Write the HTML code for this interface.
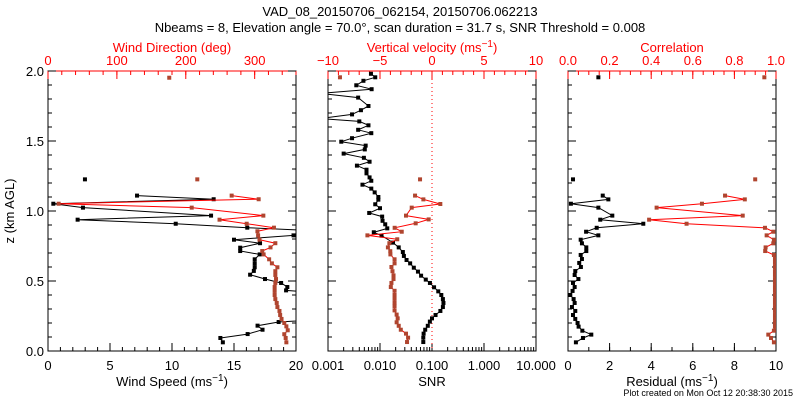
<!DOCTYPE html>
<html><head><meta charset="utf-8"><style>
body{margin:0;background:#fff;}
svg{display:block;font-family:"Liberation Sans",sans-serif;}
</style></head><body>
<svg id="chart" width="800" height="400" viewBox="0 0 800 400" xmlns="http://www.w3.org/2000/svg">
<defs>
<clipPath id="c1"><rect x="48" y="71" width="248" height="280"/></clipPath>
<clipPath id="c2"><rect x="328" y="71" width="208" height="280"/></clipPath>
<clipPath id="c3"><rect x="568" y="71" width="208" height="280"/></clipPath>
</defs>
<text x="400" y="16" font-size="13" text-anchor="middle">VAD_08_20150706_062154, 20150706.062213</text>
<text x="400" y="32" font-size="13" text-anchor="middle">Nbeams = 8, Elevation angle = 70.0°, scan duration = 31.7 s, SNR Threshold = 0.008</text>
<text transform="translate(14,211) rotate(-90)" font-size="13" text-anchor="middle">z (km AGL)</text>
<text x="793" y="396" font-size="9" text-anchor="end">Plot created on Mon Oct 12 20:38:30 2015</text>
<g id="layer"></g>
</svg>
<script>
// Panel 1: wind speed (black) and wind direction (red)
const wsZ=[1.226,1.11,1.084,1.052,1.024,0.967,0.938,0.909,0.881,0.853,0.826,0.795,0.77,0.738,0.714,0.69,0.655,0.626,0.598,0.572,0.545,0.514,0.486,0.457,0.433,0.40,0.229,0.207,0.181,0.152,0.121,0.093,0.062];
const wsVal=[2.98,7.18,13.36,0.43,2.82,13.15,2.39,10.3,16.07,23,19.8,15.0,17.1,15.5,15.5,17.07,16.67,16.67,16.67,16.6,16.3,17.5,18.8,19.3,19.2,24,23,18.6,16.9,17.3,16.1,13.9,14.1];
const wdZ=[1.952,1.226,1.11,1.084,1.052,1.024,0.967,0.938,0.909,0.881,0.855,0.826,0.795,0.77,0.74,0.714,0.69,0.655,0.626,0.598,0.57,0.543,0.514,0.486,0.457,0.429,0.40,0.371,0.343,0.314,0.286,0.257,0.229,0.2,0.176,0.148,0.12,0.093,0.062];
const wdVal=[176,216.7,266.6,305.8,15.5,208.6,312.6,249,288.4,328,304,305,307,330,323,311,313,321,325,333,330,330,331,330,329,329,329,330,332,333,336,337,339,343,346,348,343,345,346];
// Panel 2: SNR (black, log) and vertical velocity (red)
const snrZ=[1.98,1.955,1.93,1.898,1.87,1.84,1.81,1.75,1.72,1.69,1.66,1.64,1.612,1.58,1.556,1.52,1.495,1.467,1.44,1.41,1.38,1.352,1.324,1.295,1.269,1.24,1.216,1.188,1.16,1.133,1.10,1.081,1.048,1.02,0.986,0.96,0.93,0.905,0.876,0.848,0.824,0.774,0.74,0.707,0.679,0.65,0.626,0.595,0.567,0.538,0.51,0.486,0.455,0.426,0.40,0.371,0.343,0.314,0.286,0.257,0.233,0.21,0.18,0.152,0.124,0.095,0.064];
const snrVal=[0.0067,0.0081,0.0048,0.0035,0.0069,0.0007,0.0038,0.0060,0.0043,0.0029,0.0007,0.0040,0.0060,0.0038,0.0068,0.0029,0.0018,0.0053,0.0051,0.0020,0.0049,0.0063,0.0036,0.0055,0.0055,0.0063,0.0068,0.0046,0.0068,0.0079,0.0093,0.0093,0.0081,0.0100,0.0062,0.0110,0.0112,0.0126,0.0138,0.0076,0.0107,0.0178,0.0229,0.0275,0.0288,0.0324,0.038,0.0447,0.0537,0.0617,0.0759,0.0912,0.1096,0.132,0.151,0.162,0.166,0.162,0.145,0.117,0.100,0.091,0.083,0.074,0.069,0.068,0.068];
const vvZ=[1.955,1.226,1.11,1.083,1.05,1.024,0.967,0.94,0.912,0.88,0.852,0.826,0.798,0.77,0.74,0.713,0.69,0.655,0.626,0.6,0.57,0.54,0.514,0.486,0.457,0.43,0.40,0.372,0.343,0.32,0.29,0.26,0.233,0.205,0.18,0.152,0.124,0.095,0.064];
const vvVal=[-8.85,-1.15,-1.63,-0.83,0.8,-1.95,-2.5,-0.32,-1.57,-3.59,-2.91,-6.21,-3.34,-4.1,-4.24,-4.01,-4.0,-3.6,-3.6,-3.9,-3.8,-3.7,-3.7,-3.9,-3.96,-3.6,-3.6,-3.6,-3.6,-3.6,-3.6,-3.4,-3.3,-3.4,-3.2,-3.0,-2.5,-2.3,-2.4];
// Panel 3: residual (black) and correlation (red)
const resZ=[1.955,1.226,1.11,1.083,1.052,1.024,0.967,0.938,0.909,0.88,0.852,0.826,0.795,0.769,0.74,0.714,0.686,0.657,0.629,0.6,0.571,0.543,0.514,0.486,0.457,0.429,0.40,0.371,0.343,0.314,0.286,0.257,0.229,0.2,0.174,0.145,0.117,0.093,0.062];
const resVal=[1.46,0.24,1.67,1.94,0.14,1.46,2.13,1.55,3.62,1.38,0.87,1.46,0.61,0.67,0.88,0.88,0.61,0.67,0.54,0.62,0.35,0.32,0.5,0.24,0.32,0.22,0.11,0.27,0.32,0.19,0.35,0.24,0.35,0.46,0.51,0.69,1.12,0.72,0.38];
const corZ=[1.955,1.226,1.11,1.083,1.052,1.024,0.967,0.938,0.909,0.88,0.852,0.826,0.795,0.769,0.74,0.714,0.686,0.657,0.629,0.6,0.571,0.543,0.514,0.486,0.457,0.429,0.40,0.371,0.343,0.314,0.286,0.257,0.229,0.2,0.174,0.145,0.117,0.093,0.062];
const corVal=[0.944,0.90,0.755,0.85,0.644,0.426,0.84,0.39,0.57,0.947,0.987,0.955,0.99,0.987,0.95,0.948,0.99,0.995,0.995,0.995,0.995,0.995,0.995,0.995,0.995,0.995,0.995,0.995,0.995,0.995,0.995,0.995,0.995,0.995,0.995,0.99,0.963,0.976,0.99];
// Axis ticks
const zTicks=[0.0,0.5,1.0,1.5,2.0];
const wsTicks=[0,5,10,15,20];
const wdTicks=[0,100,200,300];
const snrTicks=[0.001,0.01,0.1,1,10];
const snrTickLabels=["0.001","0.010","0.100","1.000","10.000"];
const vvTicks=[-10,-5,0,5,10];
const resTicks=[0,2,4,6,8,10];
const corTicks=[0.0,0.2,0.4,0.6,0.8,1.0];

const NS="http://www.w3.org/2000/svg";
const layer=document.getElementById('layer');
const Y0=351,Y1=71;
function yS(z){return Y0-(z/2)*(Y0-Y1);}
function mk(tag,attrs,parent){const e=document.createElementNS(NS,tag);for(const k in attrs)e.setAttribute(k,attrs[k]);(parent||layer).appendChild(e);return e;}
const RED="#ff0000",MRK="#b0452f";

function panel(x0,x1,name,bottomScale,bTicks,bLabels,bMinor,topScale,tTicks,tLabels,tMinor,bTitle,tTitle,showY){
  const g=mk('g',{});
  
  
  const box=mk('rect',{x:x0,y:Y1,width:x1-x0,height:Y0-Y1,fill:'none',stroke:'#000','stroke-width':1},g);
  
  
  // bottom ticks
  bMinor.forEach(v=>{const x=bottomScale(v);mk('line',{x1:x,x2:x,y1:Y0,y2:Y0-4,stroke:'#000'},g);});
  bTicks.forEach((v,i)=>{const x=bottomScale(v);mk('line',{x1:x,x2:x,y1:Y0,y2:Y0-8,stroke:'#000'},g);
    const t=mk('text',{x:x,y:370,'font-size':13,'text-anchor':'middle'},g);t.textContent=bLabels[i];
    
    });
  tMinor.forEach(v=>{const x=topScale(v);mk('line',{x1:x,x2:x,y1:Y1,y2:Y1+4,stroke:RED},g);});
  tTicks.forEach((v,i)=>{const x=topScale(v);mk('line',{x1:x,x2:x,y1:Y1,y2:Y1+8,stroke:RED},g);
    const t=mk('text',{x:x,y:65,'font-size':13,'text-anchor':'middle',fill:RED},g);t.textContent=tLabels[i];
    
    });
  mk('line',{x1:x0,x2:x1,y1:Y1,y2:Y1,stroke:RED},g);
  // y ticks
  for(let z=0;z<=2.0001;z+=0.1){const y=yS(z);const major=Math.abs(z*2-Math.round(z*2))<1e-6;const L=major?8:4;
    mk('line',{x1:x0,x2:x0+L,y1:y,y2:y,stroke:'#000'},g);mk('line',{x1:x1,x2:x1-L,y1:y,y2:y,stroke:'#000'},g);}
  if(showY){zTicks.forEach(z=>{const t=mk('text',{x:x0-4,y:yS(z)+5,'font-size':13,'text-anchor':'end'},g);t.textContent=z.toFixed(1);
    
    });}
  const bt=mk('text',{x:(x0+x1)/2,y:386,'font-size':13,'text-anchor':'middle'},g);bt.innerHTML=bTitle;
  
  
  const tt=mk('text',{x:(x0+x1)/2,y:52,'font-size':13,'text-anchor':'middle',fill:RED},g);tt.innerHTML=tTitle;
  
  
  return g;
}
function series(zs,vals,scale,clip,lineColor,mColor,name,isolated){
  const g=mk('g',{'clip-path':'url(#'+clip+')'});
  
  
  let d='';let prev=null;
  zs.forEach((z,i)=>{const x=scale(vals[i]),y=yS(z);
    if(prev!==null && prev-z<0.1 && !isolated.includes(i) && !isolated.includes(i-1)) d+=' L'+x.toFixed(1)+','+y.toFixed(1);
    else d+=' M'+x.toFixed(1)+','+y.toFixed(1);
    prev=z;});
  const p=mk('path',{d:d,fill:'none',stroke:lineColor,'stroke-width':1},g);
  
  
  zs.forEach((z,i)=>{const x=scale(vals[i]),y=yS(z);
    const r=mk('rect',{x:x-2,y:y-2,width:4,height:4,fill:mColor},g);
    
    });
}
// scales
const ws=v=>48+v/20*248, wd=v=>48+v/360*248;
const snr=v=>328+(Math.log10(v)+3)*52, vv=v=>328+(v+10)/20*208;
const rs=v=>568+v/10*208, cr=v=>568+v*208;
function range(a,b,s){const r=[];for(let v=a;v<=b+1e-9;v+=s)r.push(+v.toFixed(4));return r;}
const logMinor=[];for(let e=-3;e<1;e++)for(let k=2;k<10;k++)logMinor.push(k*Math.pow(10,e));

panel(48,296,'wind-panel',ws,wsTicks,wsTicks.map(String),range(0,20,1),wd,wdTicks,wdTicks.map(String),range(0,360,20),
 'Wind Speed (ms<tspan dy="-5" font-size="10">−1</tspan><tspan dy="5">)</tspan>','Wind Direction (deg)',true);
panel(328,536,'snr-panel',snr,snrTicks,snrTickLabels,logMinor,vv,vvTicks,vvTicks.map(v=>v<0?'−'+(-v):String(v)),range(-10,10,1),
 'SNR','Vertical velocity (ms<tspan dy="-5" font-size="10">−1</tspan><tspan dy="5">)</tspan>',false);
panel(568,776,'residual-panel',rs,resTicks,resTicks.map(String),range(0,10,1),cr,corTicks,corTicks.map(v=>v.toFixed(1)),range(0,1,0.05),
 'Residual (ms<tspan dy="-5" font-size="10">−1</tspan><tspan dy="5">)</tspan>','Correlation',false);
// zero line
const zl=mk('line',{x1:vv(0),x2:vv(0),y1:Y1,y2:Y0,stroke:RED,'stroke-dasharray':'1,3'});



series(wsZ,wsVal,ws,'c1','#000','#000','wind-speed-series',[0]);
series(wdZ,wdVal,wd,'c1',RED,MRK,'wind-direction-series',[0,1]);
series(snrZ,snrVal,snr,'c2','#000','#000','snr-series',[]);
series(vvZ,vvVal,vv,'c2',RED,MRK,'vertical-velocity-series',[0,1]);
series(resZ,resVal,rs,'c3','#000','#000','residual-series',[0,1]);
series(corZ,corVal,cr,'c3',RED,MRK,'correlation-series',[0,1]);
</script>
</body></html>
